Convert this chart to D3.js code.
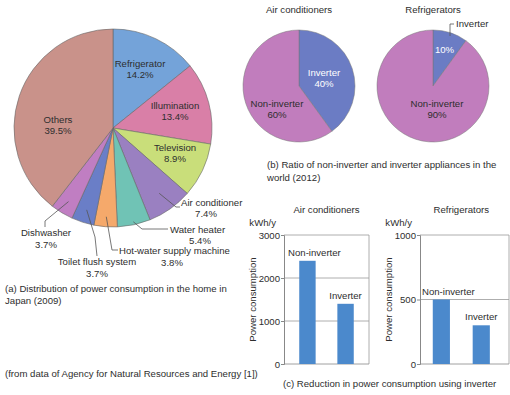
<!DOCTYPE html>
<html>
<head>
<meta charset="utf-8">
<script src="https://cdn.jsdelivr.net/npm/d3@7"></script>
<style>
  body { margin: 0; background: #fff; }
  svg { display: block; }
  text { font-family: "Liberation Sans", Arial, sans-serif; font-size: 9.6px; fill: #2e2e2e; }
  .white { fill: #fff; }
  .leader { fill: none; stroke: #555; stroke-width: 0.8; }
  .grid line { stroke: #999; stroke-width: 0.8; }
</style>
</head>
<body>
<div id="chart"></div>
<script>
// (a) home power consumption, Japan 2009
var homeUses = ["Refrigerator", "Illumination", "Television", "Air conditioner", "Water heater",
    "Hot-water supply machine", "Toilet flush system", "Dishwasher", "Others"];
var homeShares = [14.2, 13.4, 8.9, 7.4, 5.4, 3.8, 3.7, 3.7, 39.5];

// (b) inverter ratio in the world, 2012
var ratioKinds = ["Inverter", "Non-inverter"];
var acRatio = [40, 60];
var fridgeRatio = [10, 90];

// (c) power consumption, kWh/y
var barKinds = ["Non-inverter", "Inverter"];
var acKwh = [2400, 1400];
var fridgeKwh = [500, 300];
var acTicks = [0, 1000, 2000, 3000];
var fridgeTicks = [0, 500, 1000];

var homeColors = ["#74a3d9", "#d97fa7", "#c9de7a", "#9a80c1", "#70c3b5",
    "#f5a96b", "#6a7ec7", "#c07ec2", "#c9928a"];
var ratioColors = { "Inverter": "#6b7cc4", "Non-inverter": "#c17dbd" };
var barColor = "#4b89cc";

var width = 510, height = 395;

var svg = d3.select("#chart").append("svg")
    .attr("width", width)
    .attr("height", height);

function addText(g, x, y, lines, anchor, cls, gap) {
    var t = g.append("text")
        .attr("x", x)
        .attr("y", y)
        .attr("text-anchor", anchor || "middle");
    if (cls) t.attr("class", cls);
    lines.forEach(function (s, i) {
        t.append("tspan").attr("x", x).attr("dy", i ? (gap || 11.5) : 0).text(s);
    });
    return t;
}

/**
 * Big pie, clockwise from 12 o'clock
 */
var bigR = 99;
var big = svg.append("g").attr("transform", "translate(113,128)");
var pie = d3.pie().sort(null).value(function (d) { return d; });
var bigArcs = pie(homeShares);
var bigArc = d3.arc().innerRadius(0).outerRadius(bigR);

big.selectAll("path")
    .data(bigArcs)
    .enter().append("path")
    .attr("d", bigArc)
    .attr("fill", function (d, i) { return homeColors[i]; })
    .attr("stroke", "#666")
    .attr("stroke-width", 0.6);

function polar(a, r) {
    return [r * Math.sin(a), -r * Math.cos(a)];
}
function midAngle(d) { return (d.startAngle + d.endAngle) / 2; }

// labels inside the slices (offsets from the centre)
var inside = { 0: [27, -61], 1: [62, -19], 2: [62, 23], 8: [-55, -5] };
Object.keys(inside).forEach(function (k) {
    var p = inside[k];
    addText(big, p[0], p[1], [homeUses[k], homeShares[k] + "%"], "middle", null, 11);
});

// labels outside with leader lines
var outside = {
    3: { r: 80, pts: [[63, 79], [67, 79]], tx: 68, ty: 78, tx2: 93, anchor: "start", gap: 11 },
    4: { r: 96, pts: [[29, 101], [55, 101]], tx: 57, ty: 105, tx2: 87, anchor: "start", gap: 11 },
    5: { r: 89, pts: [[-1, 122], [5, 122]], tx: 6, ty: 126, tx2: 59, anchor: "start", gap: 12 },
    6: { r: 86, pts: [[-18, 109], [-16, 128]], tx: -16, ty: 137, tx2: -16, anchor: "middle", gap: 12 },
    7: { r: 86, pts: [[-68, 93], [-68, 99]], tx: -67, ty: 108, tx2: -67, anchor: "middle", gap: 12 }
};
Object.keys(outside).forEach(function (k) {
    var o = outside[k];
    var start = polar(midAngle(bigArcs[k]), o.r);
    big.append("path")
        .attr("class", "leader")
        .attr("d", d3.line()([start].concat(o.pts)));
    big.append("text")
        .attr("x", o.tx).attr("y", o.ty)
        .attr("text-anchor", o.anchor)
        .text(homeUses[k]);
    big.append("text")
        .attr("x", o.tx2).attr("y", o.ty + o.gap)
        .attr("text-anchor", "middle")
        .text(homeShares[k] + "%");
});

addText(svg, 5, 292, ["(a) Distribution of power consumption in the home in", "Japan (2009)"], "start", null, 12);
addText(svg, 5, 377, ["(from data of Agency for Natural Resources and Energy [1])"], "start");

/**
 * Two small pies
 */
var smallR = 56;
var smallArc = d3.arc().innerRadius(0).outerRadius(smallR);

function smallPie(cx, title, values) {
    var g = svg.append("g").attr("transform", "translate(" + cx + ",86)");
    var arcs = pie(values);
    g.selectAll("path")
        .data(arcs)
        .enter().append("path")
        .attr("d", smallArc)
        .attr("fill", function (d, i) { return ratioColors[ratioKinds[i]]; })
        .attr("stroke", "#777")
        .attr("stroke-width", 0.5);
    g.append("text").attr("x", 0).attr("y", -73).attr("text-anchor", "middle").text(title);
    return { g: g, arcs: arcs };
}

var acPie = smallPie(299, "Air conditioners", acRatio);
addText(acPie.g, 25, -10, [ratioKinds[0], acRatio[0] + "%"], "middle", "white", 11);
addText(acPie.g, -22, 21, [ratioKinds[1], acRatio[1] + "%"], "middle", null, 11);

var frPie = smallPie(433, "Refrigerators", fridgeRatio);
addText(frPie.g, 11.5, -33, [fridgeRatio[0] + "%"], "middle", "white");
addText(frPie.g, 4, 21, [ratioKinds[1], fridgeRatio[1] + "%"], "middle", null, 11);
frPie.g.append("path")
    .attr("class", "leader")
    .attr("d", d3.line()([[17, -50], [17, -62], [21, -62]]));
frPie.g.append("text").attr("x", 23).attr("y", -59).text(ratioKinds[0]);

addText(svg, 267, 168, ["(b) Ratio of non-inverter and inverter appliances in the", "world (2012)"], "start", null, 13);

/**
 * Bar charts
 */
function barChart(x0, x1, title, values, ticks, align) {
    var top = 235, bottom = 364;
    var x = d3.scaleBand().domain(barKinds).range([x0, x1])
        .paddingInner(0.57).paddingOuter(0.4).align(align);
    var y = d3.scaleLinear().domain([0, ticks[ticks.length - 1]]).range([bottom, top]);
    var g = svg.append("g");

    // grid + frame
    g.append("g").attr("class", "grid")
        .selectAll("line")
        .data(ticks.slice(1))
        .enter().append("line")
        .attr("x1", x0).attr("x2", x1)
        .attr("y1", function (d) { return y(d); })
        .attr("y2", function (d) { return y(d); });
    g.append("line").attr("x1", x1).attr("x2", x1).attr("y1", top).attr("y2", bottom)
        .attr("stroke", "#999").attr("stroke-width", 0.8);

    g.append("g")
        .attr("transform", "translate(" + x0 + ",0)")
        .call(d3.axisLeft(y).tickValues(ticks).tickSize(3).tickPadding(1).tickFormat(d3.format("d")))
        .call(function (a) {
            a.selectAll("path, line").attr("stroke", "#888");
            a.selectAll("text").attr("font-size", null).attr("font-family", null).attr("fill", null);
        });
    g.append("line").attr("x1", x0).attr("x2", x1).attr("y1", bottom).attr("y2", bottom)
        .attr("stroke", "#888").attr("stroke-width", 0.8);

    g.selectAll(".bar")
        .data(values)
        .enter().append("rect")
        .attr("class", "bar")
        .attr("x", function (d, i) { return x(barKinds[i]); })
        .attr("width", x.bandwidth())
        .attr("y", function (d) { return y(d); })
        .attr("height", function (d) { return bottom - y(d); })
        .attr("fill", barColor);

    g.selectAll(".blabel")
        .data(values)
        .enter().append("text")
        .attr("class", "blabel")
        .attr("x", function (d, i) { return x(barKinds[i]) + x.bandwidth() / 2 + (i ? 0 : 7); })
        .attr("y", function (d) { return y(d) - 5; })
        .attr("text-anchor", "middle")
        .text(function (d, i) { return barKinds[i]; });

    // title centred over the bars
    var mid = (x(barKinds[0]) + x(barKinds[1]) + x.bandwidth()) / 2;
    g.append("text").attr("x", mid).attr("y", 213)
        .attr("text-anchor", "middle").text(title);
    g.append("text").attr("x", x0 - 8).attr("y", 226)
        .attr("text-anchor", "end").text("kWh/y");
    g.append("text")
        .attr("transform", "translate(" + (x0 - 28) + "," + ((top + bottom) / 2) + ") rotate(-90)")
        .attr("text-anchor", "middle")
        .text("Power consumption");
}

barChart(284, 369, "Air conditioners", acKwh, acTicks, 0.5);
barChart(420, 509, "Refrigerators", fridgeKwh, fridgeTicks, 0.4);

addText(svg, 283, 387, ["(c) Reduction in power consumption using inverter"], "start");
</script>
</body>
</html>
